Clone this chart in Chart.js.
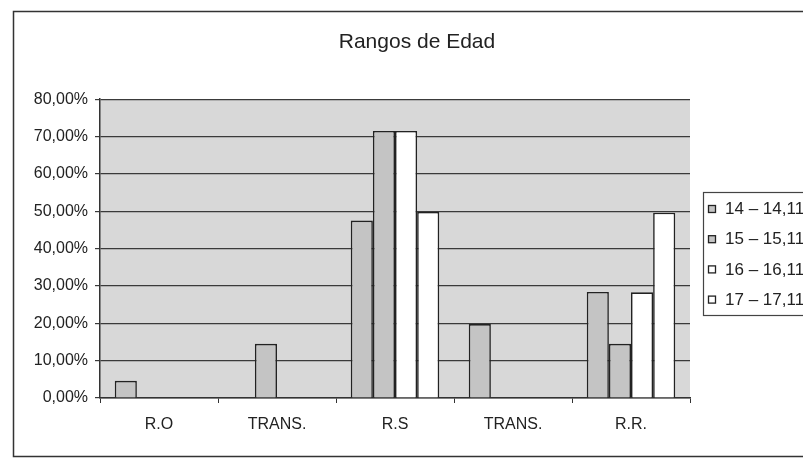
<!DOCTYPE html>
<html lang="es">
<head>
    <meta charset="UTF-8">
    <title>Rangos de Edad</title>
    <style>
        html, body { margin: 0; padding: 0; background: #fff; overflow: hidden; width: 803px; height: 459px; }
    </style>
</head>
<body>
    <!-- the scanned chart runs past the right edge of the page, so the canvas is wider and gets clipped -->
    <canvas id="myChart" width="834" height="459"></canvas>
    <script src="https://cdn.jsdelivr.net/npm/chart.js"></script>
    <script>
        const categories = ['R.O', 'TRANS.', 'R.S', 'TRANS.', 'R.R.'];
        const seriesNames = ['14 – 14,11', '15 – 15,11', '16 – 16,11', '17 – 17,11'];
        // percentages, null = no bar
        const age14 = [4.6, null, 47.5, 19.8, 28.4];
        const age15 = [null, 14.5, 71.5, null, 14.5];
        const age16 = [null, null, 71.5, null, 28.3];
        const age17 = [null, null, 49.8, null, 49.6];
        const yTickLabels = ['0,00%', '10,00%', '20,00%', '30,00%', '40,00%', '50,00%', '60,00%', '70,00%', '80,00%'];

        const greyFill = '#c4c4c4';
        const whiteFill = '#ffffff';
        const ink = '#222222';
        const fills = [greyFill, greyFill, whiteFill, whiteFill];
        const seriesData = [age14, age15, age16, age17];

        const canvas = document.getElementById('myChart');

        const sheet = {
            id: 'sheet',
            beforeDraw(chart) {
                const ctx = chart.ctx;
                const a = chart.chartArea;
                ctx.save();
                ctx.fillStyle = '#ffffff';
                ctx.fillRect(0, 0, chart.width, chart.height);
                ctx.fillStyle = '#d8d8d8';
                ctx.fillRect(a.left, a.top, a.right - a.left, a.bottom - a.top);
                ctx.restore();
            },
            afterDraw(chart) {
                const ctx = chart.ctx;
                ctx.save();
                // outer chart frame
                ctx.strokeStyle = '#333';
                ctx.lineWidth = 1.5;
                ctx.strokeRect(13.5, 11.5, 808, 445);

                // legend box
                ctx.lineWidth = 1.2;
                ctx.strokeStyle = '#444';
                ctx.strokeRect(703.5, 192.5, 112, 123);
                ctx.font = '17px "Liberation Sans", Arial, sans-serif';
                ctx.textBaseline = 'middle';
                ctx.textAlign = 'left';
                chart.data.datasets.forEach((ds, i) => {
                    const y = 209.5 + i * 30.2;
                    ctx.fillStyle = ds.backgroundColor;
                    ctx.fillRect(708.5, y - 4, 7, 7);
                    ctx.strokeStyle = ink;
                    ctx.lineWidth = 1.3;
                    ctx.strokeRect(708.5, y - 4, 7, 7);
                    ctx.fillStyle = ink;
                    ctx.fillText(ds.label, 725, y);
                });
                ctx.restore();
            }
        };

        const data = {
            labels: categories,
            datasets: seriesNames.map((name, i) => ({
                label: name,
                data: seriesData[i],
                backgroundColor: fills[i],
                borderColor: ink,
                borderWidth: 1.6,
                borderSkipped: 'bottom',
                barPercentage: 1,
                categoryPercentage: 0.75
            }))
        };

        const config = {
            type: 'bar',
            data: data,
            options: {
                responsive: false,
                animation: false,
                layout: {
                    padding: { left: 0, right: 0, top: 10, bottom: 21 }
                },
                plugins: {
                    legend: { display: false },
                    tooltip: { enabled: false },
                    title: {
                        display: true,
                        text: 'Rangos de Edad',
                        color: ink,
                        font: { family: '"Liberation Sans", Arial, sans-serif', size: 21, weight: 'normal' },
                        padding: { top: 20, bottom: 44 }
                    }
                },
                scales: {
                    x: {
                        afterFit(scale) { scale.height = 40; },
                        grid: {
                            offset: true,
                            drawOnChartArea: false,
                            drawTicks: true,
                            tickLength: 5,
                            color: '#333'
                        },
                        border: { display: true, color: '#333', width: 1.5 },
                        ticks: {
                            color: ink,
                            padding: 12,
                            font: { family: '"Liberation Sans", Arial, sans-serif', size: 16 }
                        }
                    },
                    y: {
                        min: 0,
                        max: 80,
                        afterFit(scale) { scale.width = 100; },
                        grid: {
                            color: '#3a3a3a',
                            lineWidth: 1.2,
                            drawTicks: true,
                            tickLength: 5
                        },
                        border: { display: true, color: '#333', width: 1.5 },
                        ticks: {
                            stepSize: 10,
                            color: ink,
                            padding: 7,
                            font: { family: '"Liberation Sans", Arial, sans-serif', size: 16 },
                            callback: (value, index) => yTickLabels[index]
                        }
                    },
                    // empty strip on the right that holds the legend
                    legendSpace: {
                        type: 'linear',
                        position: 'right',
                        afterFit(scale) { scale.width = 144; },
                        grid: { display: false },
                        border: { display: false },
                        ticks: { display: false }
                    }
                }
            },
            plugins: [sheet]
        };

        new Chart(canvas, config);
    </script>
</body>
</html>
